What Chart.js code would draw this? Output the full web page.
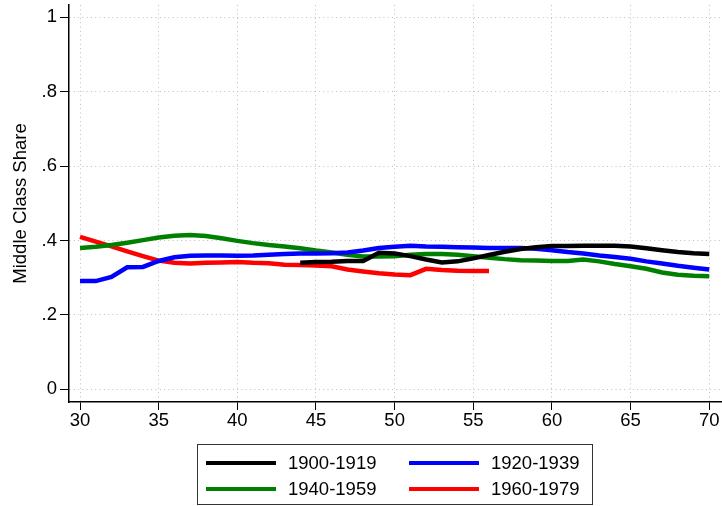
<!DOCTYPE html>
<html lang="en">
<head>
<meta charset="UTF-8">
<title>Middle Class Share by Age</title>
<script src="https://cdn.jsdelivr.net/npm/chart.js"></script>
<style>
    body { margin: 0; background: #fff; font-family: "Liberation Sans", Arial, sans-serif; }
    #wrap { position: relative; width: 722px; height: 506px; }
    #legend {
        position: absolute; left: 197px; top: 444px; width: 394px; height: 59px;
        border: 1px solid #333; box-sizing: content-box;
    }
    .item { position: absolute; height: 26px; display: flex; align-items: center; font-size: 18.5px; color: #000; }
    .swatch { width: 70px; height: 4px; margin-right: 12px; }
</style>
</head>
<body>

<div id="wrap">
    <canvas id="chart" width="722" height="506"></canvas>
    <div id="legend"></div>
</div>

<script>
// age on the x axis
const ages = [30,31,32,33,34,35,36,37,38,39,40,41,42,43,44,45,46,47,48,49,50,
              51,52,53,54,55,56,57,58,59,60,61,62,63,64,65,66,67,68,69,70];

const cohorts = ["1900-1919", "1920-1939", "1940-1959", "1960-1979"];

// middle class share per cohort, null where the cohort has no data
const share1900 = [null,null,null,null,null,null,null,null,null,null,null,null,null,null,
    0.340,0.342,0.343,0.345,0.345,0.367,0.365,0.358,0.349,0.341,0.344,0.352,0.361,0.370,
    0.377,0.382,0.385,0.385,0.386,0.386,0.386,0.384,0.379,0.374,0.369,0.366,0.364];
const share1920 = [0.291,0.291,0.302,0.328,0.329,0.345,0.355,0.359,0.360,0.360,0.359,
    0.360,0.362,0.364,0.365,0.365,0.366,0.368,0.373,0.380,0.383,0.386,0.384,0.383,0.382,
    0.381,0.380,0.380,0.380,0.378,0.374,0.369,0.365,0.360,0.356,0.351,0.344,0.338,0.332,
    0.327,0.322];
const share1940 = [0.380,0.383,0.388,0.394,0.401,0.408,0.413,0.415,0.412,0.406,0.399,
    0.393,0.388,0.384,0.379,0.373,0.368,0.362,0.357,0.357,0.358,0.362,0.364,0.364,0.362,
    0.358,0.354,0.350,0.347,0.346,0.345,0.345,0.349,0.344,0.337,0.331,0.324,0.314,0.308,
    0.305,0.304];
const share1960 = [0.410,0.397,0.384,0.371,0.358,0.346,0.340,0.338,0.340,0.341,0.342,
    0.340,0.339,0.335,0.334,0.333,0.331,0.322,0.317,0.312,0.309,0.307,0.324,0.321,0.319,
    0.318,0.318,null,null,null,null,null,null,null,null,null,null,null,null,null,null];

const xTicks = [30, 35, 40, 45, 50, 55, 60, 65, 70];
const yTicks = [0, 0.2, 0.4, 0.6, 0.8, 1];

const colors = ["#000000", "#0000ff", "#008000", "#ff0000"];
const series = [share1900, share1920, share1940, share1960];

const font = { family: '"Liberation Sans", Arial, sans-serif', size: 18.5 };

const datasets = cohorts.map((name, i) => ({
    label: name,
    data: ages.map((a, j) => ({ x: a, y: series[i][j] })),
    borderColor: colors[i],
    backgroundColor: colors[i],
    borderWidth: 4.5,
    pointRadius: 0,
    tension: 0,
    fill: false
}));

// drop the label overflow padding so the plot area keeps its fixed edges
const noPad = s => { s.paddingTop = 0; s.paddingBottom = 0; s.paddingLeft = 0; s.paddingRight = 0; };

const chart = new Chart(document.getElementById("chart"), {
    type: "line",
    data: { datasets: datasets },
    options: {
        responsive: false,
        animation: false,
        layout: { padding: { top: 5, right: 0, bottom: 0, left: 0 } },
        plugins: { legend: { display: false }, tooltip: { enabled: false } },
        scales: {
            x: {
                type: "linear",
                min: 29.3,
                max: 70.81,
                afterBuildTicks: s => { s.ticks = xTicks.map(v => ({ value: v })); },
                afterFit: s => { s.height = 104; noPad(s); },
                ticks: { font: font, color: "#000", padding: 0, maxRotation: 0 },
                grid: { color: "#bdbdbd", lineWidth: 1, tickColor: "#000", tickLength: 8, tickBorderDash: [] },
                border: { display: true, color: "#000", width: 1.5, dash: [1, 3.3] }
            },
            y: {
                min: -0.034,
                max: 1.033,
                afterBuildTicks: s => { s.ticks = yTicks.map(v => ({ value: v })); },
                afterFit: s => { s.width = 69; noPad(s); },
                ticks: {
                    font: font, color: "#000", padding: 3,
                    callback: v => v === 0 ? "0" : v === 1 ? "1" : v.toFixed(1).replace(/^0/, "")
                },
                grid: { color: "#bdbdbd", lineWidth: 1, tickColor: "#000", tickLength: 9, tickBorderDash: [] },
                border: { display: true, color: "#000", width: 1.5, dash: [1, 3.3] },
                title: {
                    display: true, text: "Middle Class Share", color: "#000",
                    font: font, padding: { top: 10, bottom: 0 }
                }
            }
        }
    }
});

// legend box, two columns
const legend = document.getElementById("legend");
datasets.forEach((ds, i) => {
    const item = document.createElement("div");
    item.className = "item";
    item.style.left = (8 + (i % 2) * 203) + "px";
    item.style.top = (5 + Math.floor(i / 2) * 26) + "px";
    item.innerHTML = '<span class="swatch" style="background:' + ds.borderColor + '"></span>' + ds.label;
    legend.appendChild(item);
});
</script>

</body>
</html>
